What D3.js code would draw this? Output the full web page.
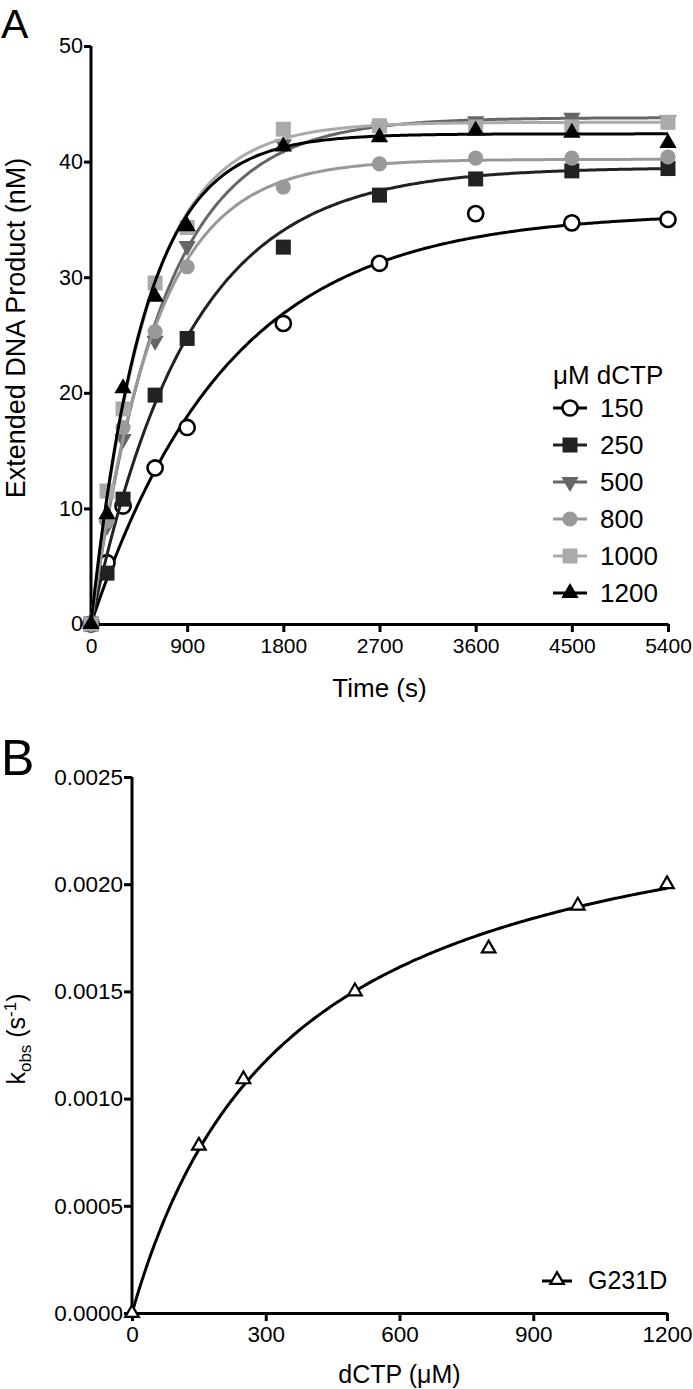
<!DOCTYPE html>
<html>
<head>
<meta charset="utf-8">
<script src="https://cdn.jsdelivr.net/npm/d3@7"></script>
<style>
  html, body { margin: 0; padding: 0; background: #fff; }
  svg { display: block; font-family: "Liberation Sans", Arial, Helvetica, sans-serif; }
</style>
</head>
<body>
<svg id="chart" width="693" height="1389"></svg>
<script>
// ---------- Panel A data ----------
const timesA = [0, 150, 300, 600, 900, 1800, 2700, 3600, 4500, 5400];
const dctpLabels = ["150", "250", "500", "800", "1000", "1200"];
const product150  = [0, 5.3, 10.2, 13.5, 17.0, 26.0, 31.2, 35.5, 34.7, 35.0];
const product250  = [0, 4.4, 10.8, 19.8, 24.7, 32.6, 37.1, 38.5, 39.2, 39.4];
const product500  = [0, 8.5, 16.0, 24.5, 32.7, 41.5, 43.0, 43.5, 43.8, 43.6];
const product800  = [0, 8.9, 17.0, 25.3, 30.9, 37.8, 39.8, 40.3, 40.3, 40.4];
const product1000 = [0, 11.5, 18.6, 29.5, 34.3, 42.8, 43.1, 43.0, 43.0, 43.4];
const product1200 = [0, 9.5, 20.4, 28.3, 34.4, 41.3, 42.1, 42.7, 42.5, 41.6];
// single-exponential fit parameters (amplitude nM, rate s^-1)
const fitAmplitude = [35.6, 39.5, 43.8, 40.2, 43.4, 42.4];
const fitRate = [0.00078, 0.0011, 0.0015, 0.0017, 0.0019, 0.0020];
const xTicksA = [0, 900, 1800, 2700, 3600, 4500, 5400];
const yTicksA = [0, 10, 20, 30, 40, 50];

// ---------- Panel B data ----------
const dctpB = [0, 150, 250, 500, 800, 1000, 1200];
const kobsB = [0, 0.00078, 0.00109, 0.0015, 0.0017, 0.0019, 0.0020];
const fitKpol = 0.002567;
const fitKd = 355;
const xTicksB = [0, 300, 600, 900, 1200];
const yTicksB = [0, 0.0005, 0.0010, 0.0015, 0.0020, 0.0025];

const seriesA = [product150, product250, product500, product800, product1000, product1200];
const colors = ["#000000", "#222222", "#666666", "#999999", "#aaaaaa", "#000000"];
const shapes = ["circleOpen", "square", "triDown", "circle", "square", "triUp"];

const svg = d3.select("#chart");

function markerPath(shape) {
  if (shape === "circleOpen" || shape === "circle") return d3.symbol(d3.symbolCircle, 180)();
  if (shape === "square") return d3.symbol(d3.symbolSquare, 225)();
  return d3.symbol(d3.symbolTriangle, 130)();
}
function drawMarker(g, shape, color, x, y) {
  const p = g.append("path").attr("d", markerPath(shape))
    .attr("transform", `translate(${x},${y})` + (shape === "triDown" ? " rotate(180)" : ""));
  if (shape === "circleOpen") p.attr("fill", "#fff").attr("stroke", color).attr("stroke-width", 2.6);
  else p.attr("fill", color).attr("stroke", "none");
}

function styleAxis(g, fs) {
  g.selectAll(".domain").attr("stroke", "#000").attr("stroke-width", 3);
  g.selectAll(".tick line").attr("stroke", "#000").attr("stroke-width", 3);
  g.selectAll(".tick text").attr("fill", "#000").style("font-size", fs + "px")
    .style("font-family", '"Liberation Sans", Arial, sans-serif');
}

// ================= Panel A =================
const xA = d3.scaleLinear().domain([0, 5400]).range([91, 668]);
const yA = d3.scaleLinear().domain([0, 50]).range([624, 46]);

const gA = svg.append("g");
const axAx = gA.append("g").attr("transform", `translate(0,${yA(0)})`)
  .call(d3.axisBottom(xA).tickValues(xTicksA).tickSize(8).tickSizeOuter(0).tickPadding(6).tickFormat(d3.format("d")));
styleAxis(axAx, 21);
const axAy = gA.append("g").attr("transform", `translate(${xA(0)},0)`)
  .call(d3.axisLeft(yA).tickValues(yTicksA).tickSize(7).tickSizeOuter(0).tickPadding(1).tickFormat(d3.format("d")));
styleAxis(axAy, 21.5);
axAy.selectAll(".domain").attr("d", `M0,${yA(0) + 1.5}V${yA(50)}`);

const curveT = d3.range(0, 5401, 20);
seriesA.forEach((vals, i) => {
  const line = d3.line().x(t => xA(t)).y(t => yA(fitAmplitude[i] * (1 - Math.exp(-fitRate[i] * t))));
  gA.append("path").datum(curveT).attr("d", line)
    .attr("fill", "none").attr("stroke", colors[i]).attr("stroke-width", 3);
  const mg = gA.append("g");
  vals.forEach((v, j) => drawMarker(mg, shapes[i], colors[i], xA(timesA[j]), yA(v)));
});

svg.append("text").attr("x", 1).attr("y", 38).style("font-size", "41px").text("A");
svg.append("text").attr("x", xA(2700)).attr("y", 697).attr("text-anchor", "middle")
  .style("font-size", "26px").text("Time (s)");
svg.append("text").attr("transform", "translate(25,328) rotate(-90)").attr("text-anchor", "middle")
  .style("font-size", "27px").text("Extended DNA Product (nM)");

const legA = svg.append("g");
legA.append("text").attr("x", 553).attr("y", 384).style("font-size", "26px").text("μM dCTP");
dctpLabels.forEach((lab, i) => {
  const cy = 408 + i * 37;
  legA.append("line").attr("x1", 553).attr("x2", 587).attr("y1", cy).attr("y2", cy)
    .attr("stroke", colors[i]).attr("stroke-width", 3);
  drawMarker(legA, shapes[i], colors[i], 570, cy);
  legA.append("text").attr("x", 600).attr("y", cy).attr("dy", "0.36em")
    .style("font-size", "26px").text(lab);
});

// ================= Panel B =================
const xB = d3.scaleLinear().domain([0, 1200]).range([132, 667]);
const yB = d3.scaleLinear().domain([0, 0.0025]).range([1313, 777]);
const gB = svg.append("g");

const axBx = gB.append("g").attr("transform", `translate(0,${yB(0)})`)
  .call(d3.axisBottom(xB).tickValues(xTicksB).tickSize(8).tickSizeOuter(0).tickPadding(5).tickFormat(d3.format("d")));
styleAxis(axBx, 22.5);
const axBy = gB.append("g").attr("transform", `translate(${xB(0)},0)`)
  .call(d3.axisLeft(yB).tickValues(yTicksB).tickSize(8).tickSizeOuter(0).tickPadding(1).tickFormat(d3.format(".4f")));
styleAxis(axBy, 22.5);
axBy.selectAll(".domain").attr("d", `M0,${yB(0) + 1.5}V${yB(0.0025)}`);

const curveS = d3.range(0, 1201, 5);
gB.append("path").datum(curveS)
  .attr("d", d3.line().x(s => xB(s)).y(s => yB(fitKpol * s / (fitKd + s))))
  .attr("fill", "none").attr("stroke", "#000").attr("stroke-width", 3);

const triB = d3.symbol(d3.symbolTriangle, 80)();
gB.selectAll("path.pt").data(dctpB).join("path").attr("class", "pt")
  .attr("d", triB)
  .attr("transform", (d, i) => `translate(${xB(d)},${yB(kobsB[i])})`)
  .attr("fill", "#fff").attr("stroke", "#000").attr("stroke-width", 2.2);

svg.append("text").attr("x", 1).attr("y", 775).style("font-size", "50px").text("B");
svg.append("text").attr("x", xB(600)).attr("y", 1383).attr("text-anchor", "middle")
  .style("font-size", "25px").text("dCTP (μM)");
const yt = svg.append("text").attr("transform", "translate(25,1039) rotate(-90)")
  .attr("text-anchor", "middle").style("font-size", "25px");
yt.append("tspan").text("k");
yt.append("tspan").attr("dy", 6).style("font-size", "17px").text("obs");
yt.append("tspan").attr("dy", -6).text(" (s");
yt.append("tspan").attr("dy", -9).style("font-size", "17px").text("-1");
yt.append("tspan").attr("dy", 9).text(")");

const legB = svg.append("g");
legB.append("line").attr("x1", 542).attr("x2", 572).attr("y1", 1281).attr("y2", 1281)
  .attr("stroke", "#000").attr("stroke-width", 3);
legB.append("path").attr("d", triB).attr("transform", "translate(557,1280)")
  .attr("fill", "#fff").attr("stroke", "#000").attr("stroke-width", 2.2);
legB.append("text").attr("x", 588).attr("y", 1280).attr("dy", "0.36em")
  .style("font-size", "25px").text("G231D");
</script>
</body>
</html>
